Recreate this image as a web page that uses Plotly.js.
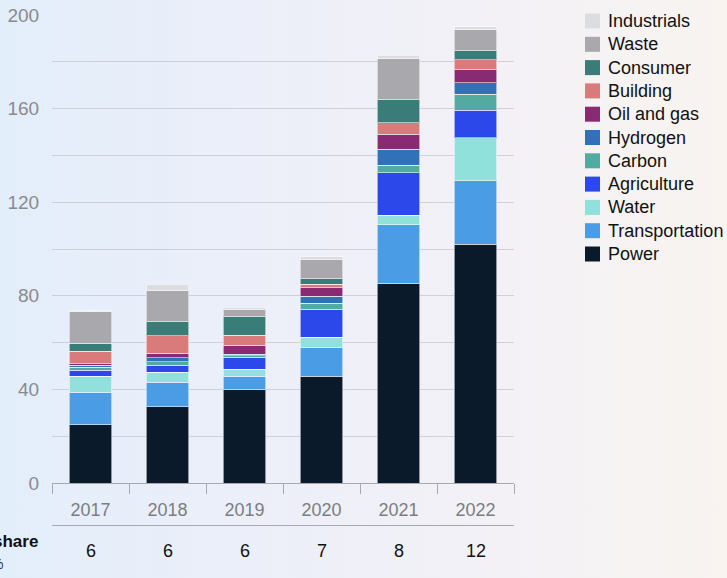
<!DOCTYPE html>
<html>
<head>
<meta charset="utf-8">
<script src="https://cdn.plot.ly/plotly-3.0.1.min.js"></script>
<style>
  html, body { margin:0; padding:0; width:727px; height:578px; overflow:hidden;
    background: linear-gradient(90deg, #e3eefb 0%, #eceff9 35%, #f3f1f6 70%, #f9f4f0 100%); }
  #chart { width:727px; height:578px; }
</style>
</head>
<body>
<div id="chart"></div>
<script>
const years = ['2017','2018','2019','2020','2021','2022'];
const power          = [24.8, 32.6, 40.0, 45.7, 85.3, 102.1];
const transportation = [14.0, 10.4, 5.7, 12.1, 25.0, 27.0];
const water          = [6.9, 4.3, 2.9, 4.5, 4.2, 18.5];
const agriculture    = [2.5, 3.1, 5.1, 11.9, 18.1, 11.8];
const carbon         = [1.2, 1.5, 0.6, 2.6, 3.2, 6.7];
const hydrogen       = [1.0, 1.6, 0.7, 3.1, 6.8, 5.0];
const oilAndGas      = [0.6, 1.9, 3.8, 3.6, 6.5, 5.4];
const building       = [5.4, 7.6, 4.3, 1.4, 4.9, 4.3];
const consumer       = [3.3, 5.9, 8.0, 2.3, 9.7, 4.0];
const waste          = [13.5, 13.3, 3.1, 8.5, 17.5, 8.8];
const industrials    = [0.4, 2.8, 0.9, 1.0, 1.7, 1.4];
const shareValues    = ['6','6','6','7','8','12'];

const seriesNames  = ['Power','Transportation','Water','Agriculture','Carbon','Hydrogen','Oil and gas','Building','Consumer','Waste','Industrials'];
const seriesValues = [power, transportation, water, agriculture, carbon, hydrogen, oilAndGas, building, consumer, waste, industrials];
const seriesColors = ['#0b1a2a','#4a9de4','#90e0dc','#2d48ea','#52aba0','#3171b8','#8a2a72','#d97b7b','#3a7d78','#a9a9ad','#dcdde1'];

const traces = seriesNames.map((n, i) => ({
  type: 'bar',
  name: n,
  x: years,
  y: seriesValues[i],
  marker: { color: seriesColors[i], line: { color: 'rgba(255,255,255,0.55)', width: 1 } },
  hoverinfo: 'x+y+name'
}));

const FONT = 'Liberation Sans, Arial, Helvetica, sans-serif';
const PLOT_W = 462, PLOT_H = 468, PLOT_L = 52, PLOT_T = 15;
const px2x = p => (p - PLOT_L) / PLOT_W;
const py2y = p => (PLOT_T + PLOT_H - p) / PLOT_H;

const annotations = years.map((yr, i) => ({
  x: i, xref: 'x', y: py2y(551), yref: 'paper',
  text: shareValues[i], showarrow: false,
  font: { family: FONT, size: 18, color: '#111111' },
  xanchor: 'center', yanchor: 'middle'
}));
annotations.push({
  x: px2x(40), xref: 'paper', y: py2y(541), yref: 'paper',
  text: '<b>share</b>', showarrow: false,
  font: { family: FONT, size: 17, color: '#111111' },
  xanchor: 'right', yanchor: 'middle'
});
annotations.push({
  x: px2x(5), xref: 'paper', y: py2y(564), yref: 'paper',
  text: '%', showarrow: false,
  font: { family: FONT, size: 14, color: '#333333' },
  xanchor: 'right', yanchor: 'middle'
});

// custom legend (top: Industrials ... bottom: Power)
const shapes = [{
  type: 'line', xref: 'paper', yref: 'paper', x0: 0, x1: 1, y0: py2y(525.5), y1: py2y(525.5),
  line: { color: '#a8a8ae', width: 1 }
}];
const legendOrder = seriesNames.map((n, i) => i).reverse();
legendOrder.forEach((idx, row) => {
  const cy = 21 + row * 23.3;
  shapes.push({
    type: 'rect', xref: 'paper', yref: 'paper',
    x0: px2x(585), x1: px2x(600), y0: py2y(cy + 7.5), y1: py2y(cy - 7.5),
    fillcolor: seriesColors[idx], line: { width: 0 }
  });
  annotations.push({
    x: px2x(606), xref: 'paper', y: py2y(cy), yref: 'paper',
    text: seriesNames[idx], showarrow: false,
    font: { family: FONT, size: 18, color: '#111111' },
    xanchor: 'left', yanchor: 'middle'
  });
});

const layout = {
  width: 727, height: 578,
  margin: { l: 52, r: 213, t: 15, b: 95, pad: 0, autoexpand: false },
  paper_bgcolor: 'rgba(0,0,0,0)',
  plot_bgcolor: 'rgba(0,0,0,0)',
  barmode: 'stack',
  bargap: 0.45,
  font: { family: FONT, color: '#222' },
  showlegend: false,
  xaxis: {
    type: 'category',
    range: [-0.5, 5.5],
    showline: true, linecolor: '#a8a8ae', linewidth: 1,
    ticks: 'outside', tickson: 'boundaries', ticklen: 10, tickcolor: '#a8a8ae', tickwidth: 1,
    tickfont: { family: FONT, size: 18, color: '#7d7d80' },
    ticklabelstandoff: 10,
    tickangle: 0,
    showgrid: false, zeroline: false
  },
  yaxis: {
    range: [0, 200],
    tickvals: [0, 40, 80, 120, 160, 200],
    tickfont: { family: FONT, size: 19, color: '#8a8a8e' },
    showgrid: true, gridcolor: '#cfd0d8', gridwidth: 1,
    minor: { tickvals: [20, 60, 100, 140, 180], showgrid: true, gridcolor: '#cfd0d8', gridwidth: 1, ticks: '' },
    zeroline: false, showline: false, ticks: 'outside', ticklen: 8, tickcolor: 'rgba(0,0,0,0)'
  },
  shapes: shapes,
  annotations: annotations
};

Plotly.newPlot('chart', traces, layout, { displayModeBar: false, responsive: false });
</script>
</body>
</html>
